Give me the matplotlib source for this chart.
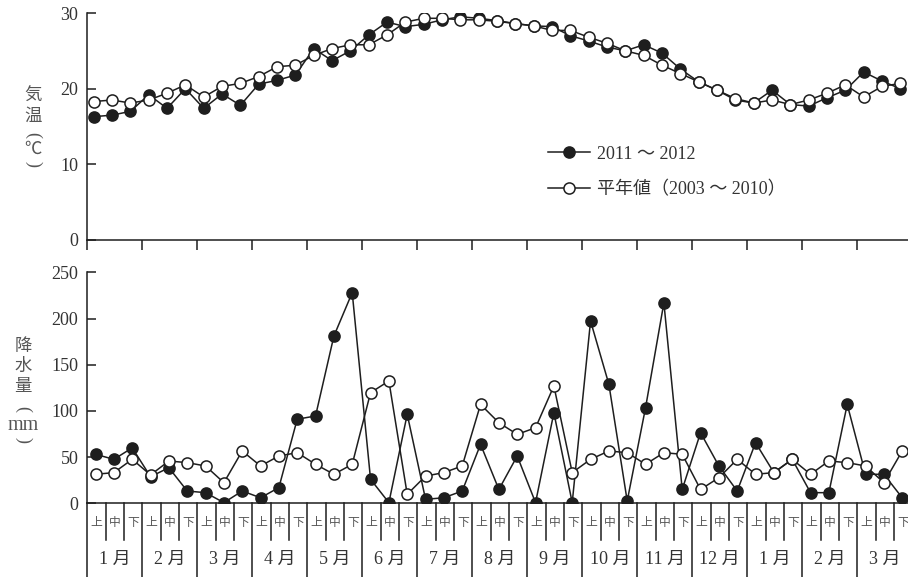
import numpy as np
import matplotlib
matplotlib.use("Agg")
import matplotlib.pyplot as plt
from matplotlib.lines import Line2D

plt.rcParams['font.family'] = ['Liberation Serif', 'Noto Sans CJK JP']

months = ['1 月', '2 月', '3 月', '4 月', '5 月', '6 月', '7 月', '8 月',
          '9 月', '10 月', '11 月', '12 月', '1 月', '2 月', '3 月']
dekads = ['上', '中', '下']

# 気温 (℃)
temp_2011 = [16.3, 16.5, 17.0, 19.2, 17.4, 20.0, 17.4, 19.3, 17.8, 20.6, 21.1, 21.8,
             25.3, 23.7, 25.0, 27.1, 28.8, 28.2, 28.5, 29.1, 29.5, 29.3, 29.0, 28.6,
             28.3, 28.2, 27.0, 26.3, 25.5, 25.0, 25.8, 24.7, 22.6, 20.9, 19.8, 18.5,
             18.1, 19.8, 17.9, 17.7, 18.8, 19.8, 22.2, 21.0, 20.0]
temp_normal = [18.3, 18.5, 18.1, 18.5, 19.4, 20.5, 18.9, 20.3, 20.7, 21.6, 22.9, 23.1,
               24.4, 25.3, 25.8, 25.8, 27.1, 28.8, 29.3, 29.3, 29.1, 29.1, 28.9, 28.6,
               28.3, 27.7, 27.7, 26.8, 26.0, 25.0, 24.4, 23.1, 22.0, 20.9, 19.8, 18.7,
               18.1, 18.5, 17.9, 18.5, 19.4, 20.5, 18.9, 20.3, 20.7]

# 降水量 (mm)
rain_2011 = [53, 47.6, 60, 28.8, 38.5, 13.3, 11.5, 0.7, 13.3, 6, 17, 91,
             94.5, 181, 228, 26, 0.7, 96.3, 4.3, 6, 13.3, 63.8, 15, 51.2,
             0.7, 98, 0.7, 197.3, 128.8, 2.5, 103.5, 217, 15, 76.4, 40.4, 13.3,
             65.6, 33.2, 47.6, 11.5, 11.5, 107, 31.4, 31.4, 6]
rain_normal = [31.4, 33.2, 47.6, 30.7, 45.8, 44, 40.4, 22.3, 56.6, 40.4, 51.2, 54.8,
               42.2, 31.4, 42.2, 119.7, 132.4, 9.7, 29.5, 33.2, 40.4, 107, 87.2, 74.6,
               81.8, 127, 33.2, 47.6, 56.6, 54.8, 42.2, 54.8, 53, 15, 27.7, 47.6,
               31.4, 33.2, 47.6, 31.4, 45.8, 44, 40.4, 22.3, 56.6]

label_2011 = '2011 ～ 2012'
label_normal = '平年値（2003 ～ 2010）'

line_c = '#1e1e1e'
text_c = '#333333'
W, H = 908, 577

fig = plt.figure(figsize=(W / 100, H / 100), dpi=100)
ax1 = fig.add_axes([87.3 / W, 1 - 240 / H, 825 / W, 227 / H])
ax2 = fig.add_axes([87.3 / W, 1 - 503.3 / H, 825 / W, 231 / H])

n = len(temp_2011)
x_top = np.arange(n) + 0.35
x_bot = np.arange(n) + 0.45

style = dict(color=line_c, lw=1.1, marker='o', ms=8, mew=1.1, mec=line_c)

ax1.plot(x_top, temp_2011, mfc=line_c, **style)
ax1.plot(x_top, temp_normal, mfc='white', **style)
ax2.plot(x_bot, rain_2011, mfc=line_c, **style)
ax2.plot(x_bot, rain_normal, mfc='white', **style)

for ax in (ax1, ax2):
    ax.set_xlim(0, 45)
    for s in ('top', 'right'):
        ax.spines[s].set_visible(False)
    for s in ('left', 'bottom'):
        ax.spines[s].set_linewidth(1.1)
        ax.spines[s].set_color(line_c)
    ax.tick_params(axis='y', direction='in', length=6.5, width=1.1, color=line_c,
                   pad=6.5, labelsize=13, labelcolor=text_c)

ax1.set_ylim(0, 30)
ax1.set_yticks([0, 10, 20, 30])
ax1.set_xticks(range(0, 46, 3))
ax1.set_xticklabels([])
ax1.tick_params(axis='x', direction='out', length=7.2, width=1.1, color=line_c)

ax2.set_ylim(0, 250)
ax2.set_yticks([0, 50, 100, 150, 200, 250])
ax2.set_xticks([])

# table under the precipitation panel
tr = ax2.get_xaxis_transform()
for k in range(46):
    bottom = -0.33 if k % 3 == 0 else -0.159
    ax2.plot([k, k], [0, bottom], transform=tr, clip_on=False, color=line_c, lw=1.1)
for k in range(n):
    ax2.text(k + 0.5, -0.085, dekads[k % 3], transform=tr, ha='center', va='center',
             fontsize=8.5, color='#555555', family=['Noto Sans CJK JP'])
for m, lab in enumerate(months):
    ax2.text(3 * m + 1.5, -0.245, lab, transform=tr, ha='center', va='center',
             fontsize=13, color=text_c)

# legend
handles = [Line2D([], [], mfc=line_c, **style), Line2D([], [], mfc='white', **style)]
ax1.legend(handles, [label_2011, label_normal], loc='center left',
           bbox_to_anchor=(0.558, 0.300), frameon=False, fontsize=13,
           handlelength=2.33, handletextpad=0.4, labelspacing=1.0,
           borderpad=0, borderaxespad=0, numpoints=1, labelcolor=text_c)

# vertical axis titles, one character per line
def stack(items, x):
    for ch, y, rot, fs in items:
        fig.text(x / W, 1 - y / H, ch, ha='center', va='center', fontsize=fs,
                 color='#555555', rotation=rot, rotation_mode='anchor',
                 family=['Liberation Serif', 'Noto Sans CJK JP'])

stack([('気', 97, 0, 12.5), ('温', 117, 0, 12.5), ('(', 135, -90, 13),
       ('℃', 150, 0, 12.5), (')', 164, -90, 13)], 33)
stack([('降', 347, 0, 12.5), ('水', 367, 0, 12.5), ('量', 387, 0, 12.5),
       ('(', 409, -90, 13), ('mm', 425, 0, 14.5), (')', 440, -90, 13)], 23)

fig.savefig('out.png', dpi=100)
